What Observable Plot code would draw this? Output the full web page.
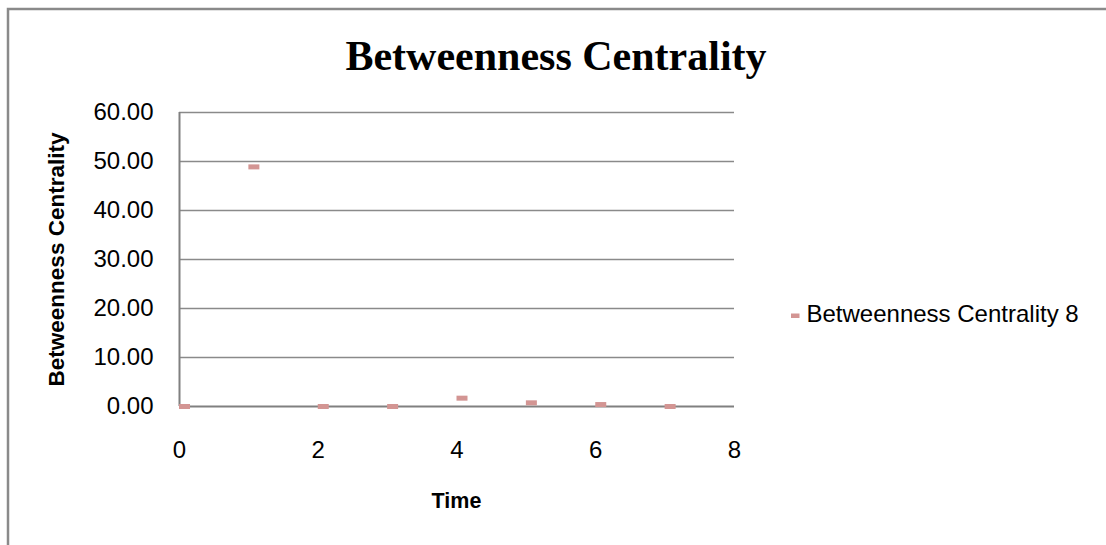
<!DOCTYPE html>
<html>
<head>
<meta charset="utf-8">
<script src="https://cdn.jsdelivr.net/npm/d3@7"></script>
<script src="https://cdn.jsdelivr.net/npm/@observablehq/plot@0.6"></script>
<style>
  html, body { margin: 0; padding: 0; background: white; overflow: hidden; }
  #chart { position: relative; width: 1106px; height: 545px; }
</style>
</head>
<body>
<div id="chart"></div>
<script>
// ---- data ----
const times = [0, 1, 2, 3, 4, 5, 6, 7];
const betweenness = [0, 48.9, 0, 0, 1.7, 0.75, 0.4, 0];
const xTicks = [0, 2, 4, 6, 8];
const yTicks = [0, 10, 20, 30, 40, 50, 60];
const chartTitle = "Betweenness Centrality";
const yTitle = "Betweenness Centrality";
const xTitle = "Time";
const seriesName = "Betweenness Centrality 8";

const table = times.map((t, i) => ({time: t, value: betweenness[i]}));

const markerColor = "#d39593";
const gridColor = "#8a8a8a";

// dash-shaped marker like Excel's
const dashSymbol = { draw(ctx) { ctx.rect(-5.5, -2.5, 11, 5); } };

const W = 1106, H = 545;
const plot = Plot.plot({
  width: W,
  height: H,
  marginLeft: 179,
  marginRight: 372,
  marginTop: 112,
  marginBottom: 139,
  style: {fontFamily: "'Liberation Sans', Arial, sans-serif", fontSize: "24px", color: "black", background: "white", overflow: "visible"},
  x: {domain: [0, 8], ticks: xTicks, tickSize: 0, tickPadding: 34, label: null},
  y: {domain: [0, 60], ticks: yTicks, tickSize: 0, tickPadding: 26, tickFormat: d3.format(".2f"), label: null},
  marks: [
    Plot.ruleY(yTicks.filter(d => d !== 0), {stroke: gridColor, strokeWidth: 1.5, strokeOpacity: 1}),
    Plot.ruleY([0], {stroke: "#808080", strokeWidth: 2, strokeOpacity: 1}),
    Plot.ruleX([0], {stroke: "#808080", strokeWidth: 2, strokeOpacity: 1}),
    Plot.dot(table, {x: "time", y: "value", symbol: dashSymbol, fill: markerColor, stroke: "none", dx: 5})
  ]
});
document.getElementById("chart").appendChild(plot);

const svg = d3.select(plot);
// outer chart border
svg.append("rect")
  .attr("x", 8).attr("y", 9).attr("width", 1300).attr("height", 800)
  .attr("fill", "none").attr("stroke", "#8a8a8a").attr("stroke-width", 2.5);

// title
svg.append("text")
  .attr("x", 556).attr("y", 70)
  .attr("text-anchor", "middle")
  .style("font-family", "'Liberation Serif', 'Times New Roman', serif")
  .style("font-weight", "bold").style("font-size", "42px")
  .attr("fill", "black")
  .text(chartTitle);

// y-axis title
svg.append("text")
  .attr("transform", "translate(64,259.5) rotate(-90)")
  .attr("text-anchor", "middle")
  .style("font-family", "'Liberation Sans', Arial, sans-serif")
  .style("font-weight", "bold").style("font-size", "22.5px")
  .attr("fill", "black")
  .text(yTitle);

// x-axis title
svg.append("text")
  .attr("x", 456.5).attr("y", 507.5)
  .attr("text-anchor", "middle")
  .style("font-family", "'Liberation Sans', Arial, sans-serif")
  .style("font-weight", "bold").style("font-size", "21.5px")
  .attr("fill", "black")
  .text(xTitle);

// legend
svg.append("rect")
  .attr("x", 791).attr("y", 313.5).attr("width", 8.5).attr("height", 4.5)
  .attr("fill", markerColor);
svg.append("text")
  .attr("x", 806.5).attr("y", 322)
  .attr("text-anchor", "start")
  .style("font-family", "'Liberation Sans', Arial, sans-serif")
  .style("font-size", "24px")
  .attr("fill", "black")
  .text(seriesName);
</script>
</body>
</html>
